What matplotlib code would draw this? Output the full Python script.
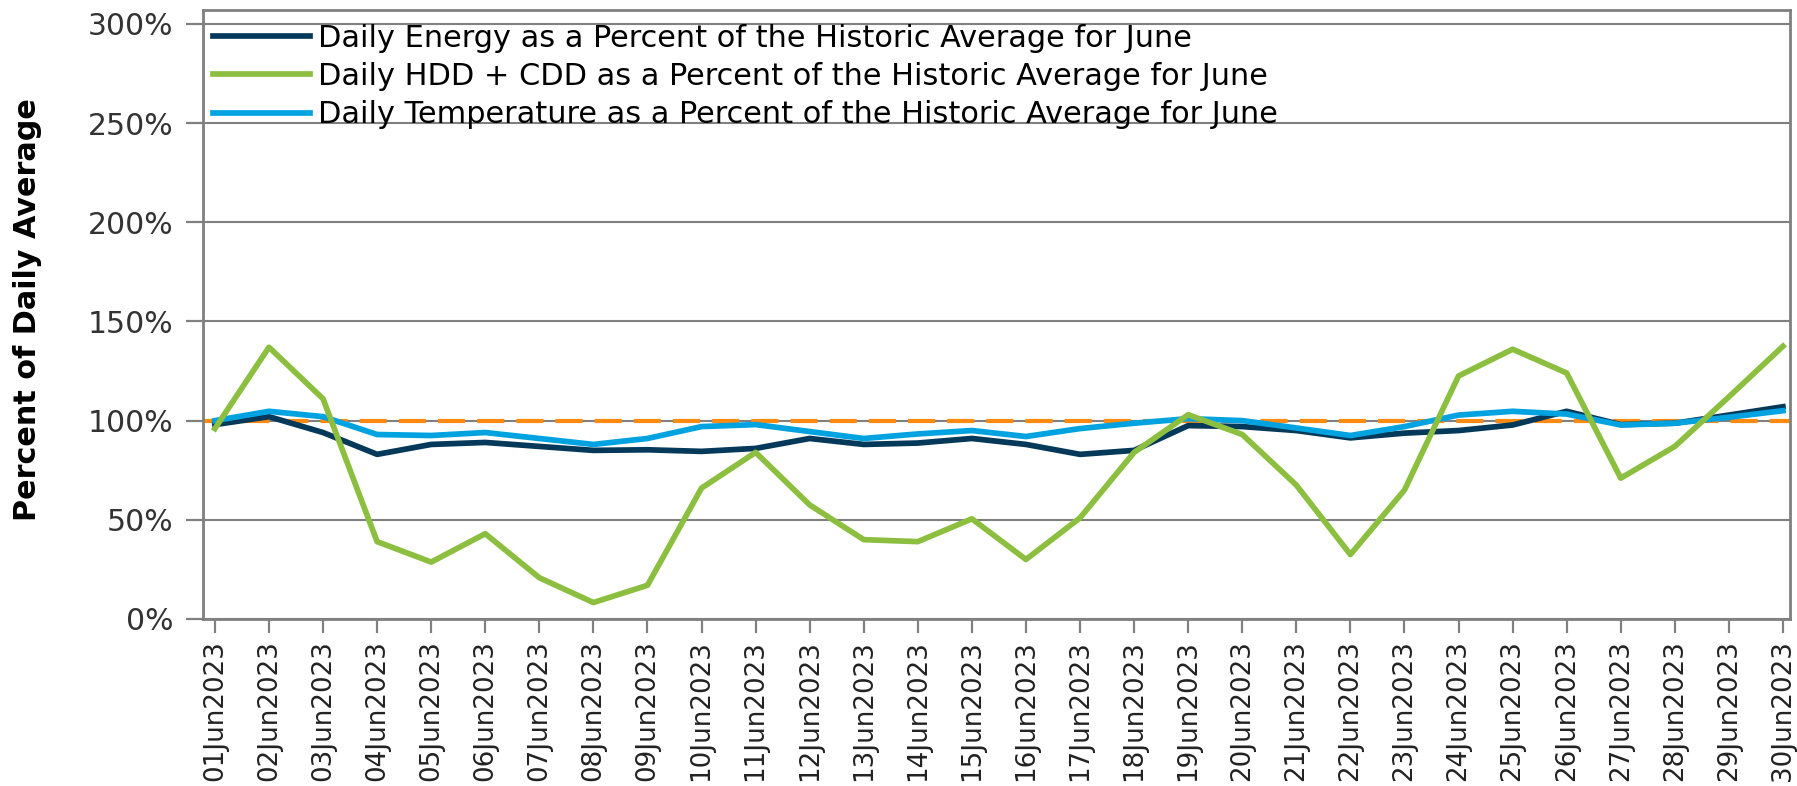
import matplotlib.pyplot as plt
from matplotlib.ticker import FuncFormatter

days = ["%02dJun2023" % d for d in range(1, 31)]

energy = [98, 102, 94, 83, 88, 89, 87, 85, 85.3, 84.5,
          86, 91, 88, 88.7, 91, 88, 83, 85, 97.5, 97,
          95, 91.3, 93.7, 95, 97.8, 104.7, 98, 98.7, 102.8, 107]
hdd_cdd = [96, 137, 111, 39, 28.7, 43, 20.8, 8.3, 17, 66,
           84, 57.5, 40, 39, 50.5, 30, 51, 84, 103, 93,
           67.5, 32.5, 65, 122.5, 136, 124, 71, 87, 112, 137.5]
temperature = [100, 104.7, 102, 93, 92.5, 94, 91, 88, 91, 97,
               98, 94.5, 91, 93.3, 95, 92, 96, 98.7, 101, 100,
               96.3, 92.5, 97, 102.8, 104.7, 103.3, 97.8, 98.7, 101.7, 105]
reference = 100

x = list(range(len(days)))

fig = plt.figure(figsize=(17.97, 7.86), dpi=100)
ax = fig.add_axes([203/1797, 1 - 619/786, (1790-203)/1797, (619-10)/786])
ax.set_axisbelow(True)

ax.axhline(reference, color="#ff8a10", lw=3, dashes=(6.5, 2.9), zorder=1.8)
ax.plot(x, energy, color="#05395a", lw=4.1, zorder=2,
        label="Daily Energy as a Percent of the Historic Average for June")
ax.plot(x, hdd_cdd, color="#8cbf40", lw=4.1, zorder=4,
        label="Daily HDD + CDD as a Percent of the Historic Average for June")
ax.plot(x, temperature, color="#00a3e0", lw=4.1, zorder=3,
        label="Daily Temperature as a Percent of the Historic Average for June")

ax.set_xlim(-0.22, 29.13)
ax.set_ylim(0, 307)
ax.set_yticks(range(0, 301, 50))
ax.yaxis.set_major_formatter(FuncFormatter(lambda v, p: "%d%%" % v))
ax.set_xticks(x)
ax.set_xticklabels(days, rotation=90, fontsize=18.8)
ax.tick_params(axis="y", labelsize=21.5, labelcolor="#333333", length=12, pad=9.4)
ax.tick_params(axis="x", labelcolor="#222222", length=10, pad=5)
ax.tick_params(axis="both", color="#808080", width=1.6)
ax.grid(axis="y", color="#808080", lw=1.5)
for s in ax.spines.values():
    s.set_color("#808080")
    s.set_linewidth(2)

ax.set_ylabel("Percent of Daily Average", fontsize=21.8, fontweight="bold")
ax.yaxis.set_label_coords(-0.1015, 0.508)

h, l = ax.get_legend_handles_labels()
ax.legend(h, l, loc="upper left", bbox_to_anchor=(0.0061, 0.977), frameon=False,
          fontsize=21.9, handlelength=3.2, handletextpad=0.27, labelspacing=0.3,
          borderaxespad=0, borderpad=0)

fig.savefig("out.png", dpi=100)
